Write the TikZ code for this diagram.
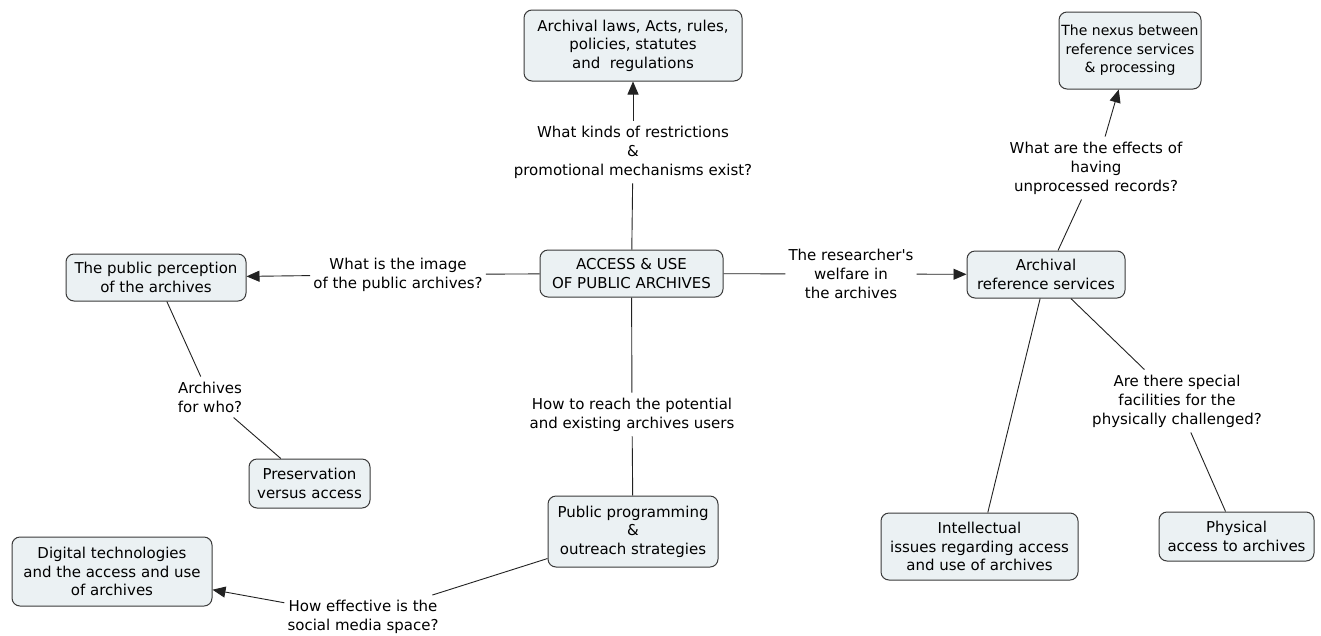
\documentclass[tikz,border=0pt]{standalone}
\usepackage{fontspec}
\newfontfamily\mapfont{DejaVu Sans}
\usetikzlibrary{arrows.meta}
\definecolor{boxfill}{HTML}{EBF1F3}
\definecolor{boxline}{HTML}{3A3A3A}
\definecolor{linkcol}{HTML}{222222}
\begin{document}
\begin{tikzpicture}[x=1pt,y=-1pt,
  concept/.style={draw=boxline, line width=1pt, fill=boxfill, rounded corners=8pt,
    align=center, font=\mapfont\fontsize{15}{18.5}\selectfont, inner sep=0pt},
  phrase/.style={align=center, font=\mapfont\fontsize{15}{19}\selectfont, inner xsep=3pt, inner ysep=5pt},
  link/.style={draw=linkcol, line width=0.9pt},
  arr/.style={link, -{Triangle[length=13pt,width=11pt]}}]
\useasboundingbox (0,0) rectangle (1321,635);
\fill[white] (0,0) rectangle (1321,635);

% concepts
\node[concept, minimum width=218, minimum height=71] (laws) at (633,45.5)
  {Archival laws, Acts, rules,\\policies, statutes\\and~~regulations};
\node[concept, minimum width=142, minimum height=77,
      font=\mapfont\fontsize{14}{18.5}\selectfont] (nexus) at (1130,50.5)
  {The nexus between\\reference services\\\& processing};
\node[concept, minimum width=183, minimum height=47] (core) at (631.5,273.5)
  {ACCESS \& USE\\OF PUBLIC ARCHIVES};
\node[concept, minimum width=180, minimum height=47] (image) at (156,277.5)
  {The public perception\\of the archives};
\node[concept, minimum width=158, minimum height=47] (ref) at (1046,274.5)
  {Archival\\reference services};
\node[concept, minimum width=121, minimum height=49] (pres) at (309.5,483.5)
  {Preservation\\versus access};
\node[concept, minimum width=170, minimum height=71] (prog) at (633,531.5)
  {Public programming\\\&\\outreach strategies};
\node[concept, minimum width=200, minimum height=69] (digi) at (112,571.5)
  {Digital technologies\\and the access and use\\of archives};
\node[concept, minimum width=197, minimum height=67] (intel) at (979.5,546.5)
  {Intellectual\\issues regarding access\\and use of archives};
\node[concept, minimum width=155, minimum height=49] (phys) at (1236.5,536.5)
  {Physical\\access to archives};

% linking phrases
\node[phrase] (q1) at (633,152) {What kinds of restrictions\\\&\\promotional mechanisms exist?};
\node[phrase] (q2) at (398,274.5) {What is the image\\of the public archives?};
\node[phrase] (q3) at (851,274) {The researcher's\\welfare in\\the archives};
\node[phrase] (q4) at (1096,168) {What are the effects of\\having\\unprocessed records?};
\node[phrase] (q5) at (210,397) {Archives\\for who?};
\node[phrase] (q6) at (632,414.5) {How to reach the potential\\and existing archives users};
\node[phrase] (q7) at (1177,401) {Are there special\\facilities for the\\physically challenged?};
\node[phrase] (q8) at (363,617) {How effective is the\\social media space?};

% connectors
\coordinate (refn) at ([xshift=12pt]ref.north);
\draw[link] (core) -- (q1);
\draw[arr]  (q1) -- (laws);
\draw[link] (core) -- (q2);
\draw[arr]  (q2) -- (image);
\draw[link] (core) -- (q3);
\draw[arr]  (q3) -- (ref);
\draw[link] (refn) -- (q4);
\draw[arr]  (q4) -- (nexus);
\draw[link] (image) -- (q5);
\draw[link] (q5) -- (pres);
\draw[link] (core) -- (q6);
\draw[link] (q6) -- (prog);
\draw[link] (ref) -- (q7);
\draw[link] (q7) -- (phys);
\draw[link] (ref) -- (intel);
\draw[link] (prog) -- (q8);
\draw[arr]  (q8) -- (digi);
\end{tikzpicture}
\end{document}
